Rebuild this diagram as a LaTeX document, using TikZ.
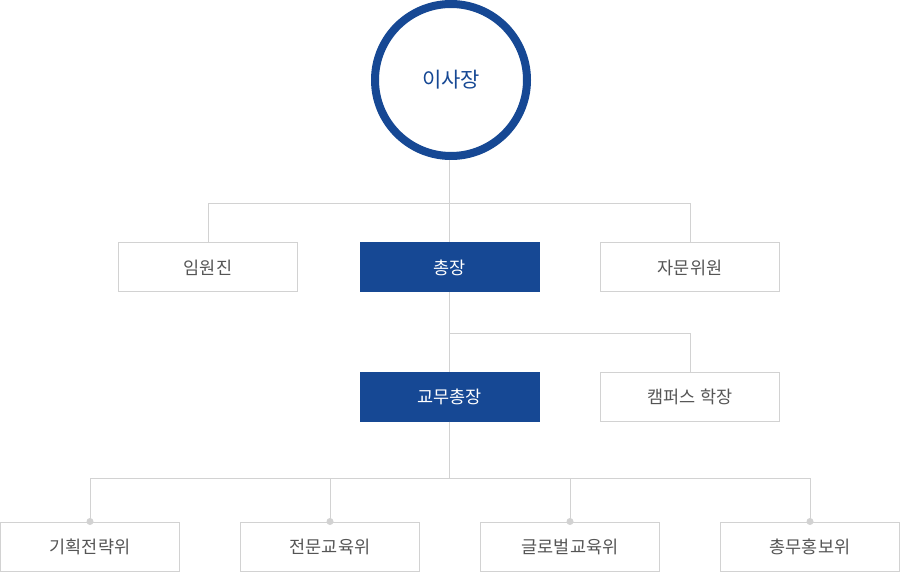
\documentclass[tikz,border=0pt]{standalone}
\usepackage{fontspec}
\newfontfamily\kr{Noto Sans CJK KR}
\definecolor{orgblue}{HTML}{164894}
\definecolor{orgline}{HTML}{D2D2D2}
\definecolor{orgtext}{HTML}{555555}

\begin{document}
\begin{tikzpicture}[x=1pt,y=-1pt,
  orgbox/.style={draw=orgline,line width=1pt,fill=white,minimum width=179pt,minimum height=49pt,inner sep=0pt,text=orgtext,font=\kr\fontsize{17.5}{20}\selectfont},
  headbox/.style={orgbox,draw=orgblue,fill=orgblue,text=white},
  link/.style={draw=orgline,line width=1pt},
  joint/.style={fill=orgline}]
\useasboundingbox (0,0) rectangle (900,572);
\node[circle,draw=orgblue,line width=8pt,fill=white,minimum size=152pt,inner sep=0pt,text=orgblue,font=\kr\fontsize{21}{24}\selectfont] (isajang) at (451,80) {이사장};
\node[orgbox] (imwon) at (208,267.5) {임원진};
\node[headbox] (chongjang) at (449.5,267.5) {총장};
\node[orgbox] (jamun) at (690,267.5) {자문위원};
\node[headbox] (gyomu) at (449.5,396.5) {교무총장};
\node[orgbox] (campus) at (690,396.5) {캠퍼스 학장};
\node[orgbox] (gihoek) at (90,546.5) {기획전략위};
\node[orgbox] (jeonmun) at (330,546.5) {전문교육위};
\node[orgbox] (global) at (570,546.5) {글로벌교육위};
\node[orgbox] (chongmu) at (810,546.5) {총무홍보위};
\coordinate (j1) at (449.5,204);
\coordinate (j2) at (449.5,333);
\coordinate (j3) at (449.5,478);
% connectors
\draw[link] (j1 |- isajang.south) -- (j1) -- (chongjang.north);
\draw[link] (j1) -| (imwon.north);
\draw[link] (j1) -| (jamun.north);
\draw[link] (chongjang.south) -- (gyomu.north);
\draw[link] (j2) -| (campus.north);
\draw[link] (gyomu.south) -- (j3);
\foreach \n in {gihoek,jeonmun,global,chongmu}{
  \draw[link] (j3) -| (\n.north);
  \fill[joint] (\n.north) circle (3.5pt);
}
\end{tikzpicture}
\end{document}
